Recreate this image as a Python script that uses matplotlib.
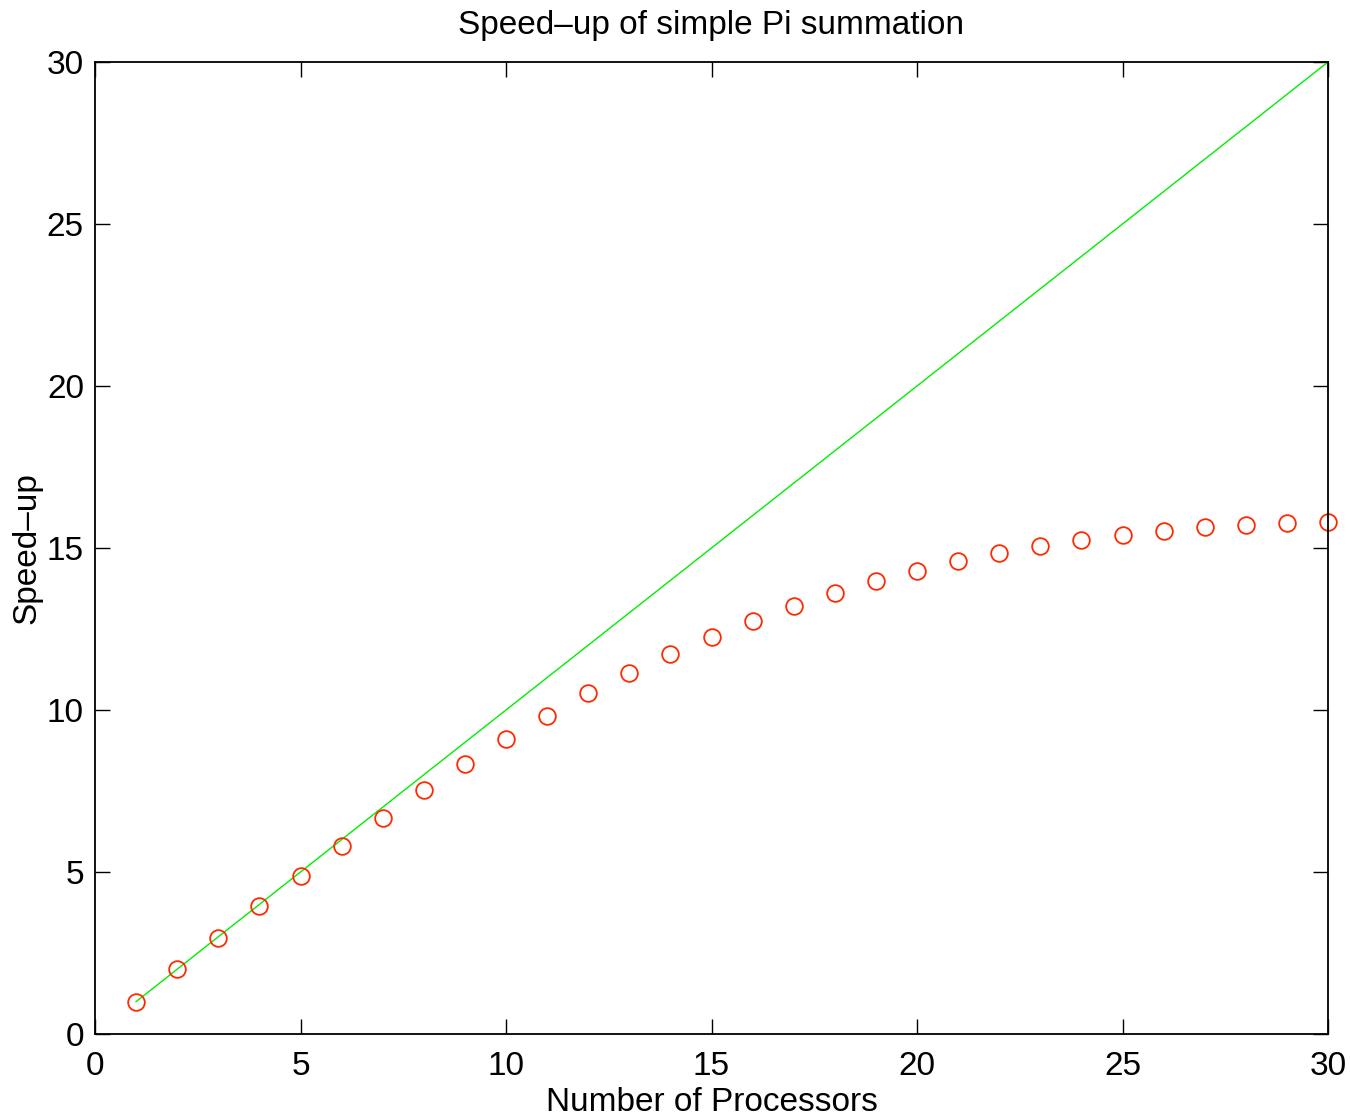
import numpy as np
import matplotlib
matplotlib.use('Agg')
import matplotlib.pyplot as plt

plt.rcParams['font.family'] = ['Liberation Sans', 'DejaVu Sans']

# number of processors and measured speed-up
procs = np.arange(1, 31)
speedup = [0.99, 2.00, 2.96, 3.95, 4.88, 5.80, 6.67, 7.53, 8.33, 9.10,
           9.81, 10.52, 11.14, 11.73, 12.25, 12.75, 13.21, 13.61, 13.98, 14.29,
           14.60, 14.85, 15.06, 15.25, 15.40, 15.52, 15.65, 15.71, 15.77, 15.80]
ideal_x = [1, 30]
ideal_y = [1, 30]

fig = plt.figure(figsize=(13.5, 11.17), dpi=100)
ax = fig.add_axes([95 / 1350, 1 - 1034 / 1117, (1328 - 95) / 1350, (1034 - 62) / 1117])

ax.plot(ideal_x, ideal_y, color='#00ee00', lw=1.0)
ax.plot(procs, speedup, 'o', mfc='none', mec='#ff2a00', ms=12, mew=1.3, clip_on=False)

ax.set_xlim(0, 30)
ax.set_ylim(0, 30)
ax.set_xticks(np.arange(0, 31, 5))
ax.set_yticks(np.arange(0, 31, 5))
ax.tick_params(direction='in', top=True, right=True, length=11, width=1, labelsize=24)
ax.tick_params(axis='x', pad=12)
ax.tick_params(axis='y', pad=8)
for s in ax.spines.values():
    s.set_linewidth(1.3)

ax.set_title('Speed\u2013up of simple Pi summation', fontsize=24, pad=20)
ax.set_xlabel('Number of Processors', fontsize=24, labelpad=4)
ax.set_ylabel('Speed\u2013up', fontsize=24, labelpad=3)

fig.savefig('out.png', dpi=100)
